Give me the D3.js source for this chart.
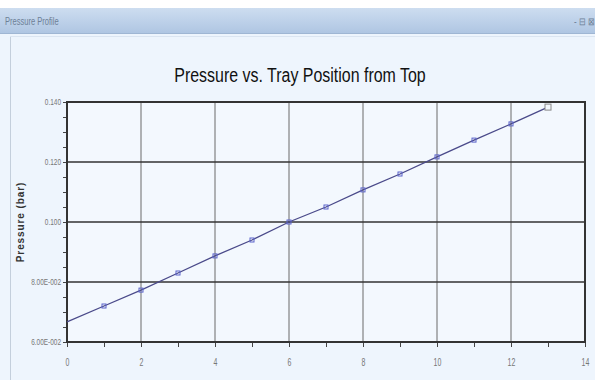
<!DOCTYPE html>
<html><head><meta charset="utf-8">
<script src="https://cdn.jsdelivr.net/npm/d3@7"></script>
<style>
html,body{margin:0;padding:0;background:#fff;}
svg{display:block;}
</style></head>
<body>
<svg id="c" width="595" height="380"></svg>
<script>
const trays = [0,1,2,3,4,5,6,7,8,9,10,11,12,13];
const pressures = [0.0667,0.0720,0.0773,0.0830,0.0887,0.0940,0.1000,0.1050,0.1107,0.1160,0.1217,0.1273,0.1327,0.1383];
const yTickValues = [0.06,0.08,0.10,0.12,0.14];
const yTickLabels = ["6.00E-002","8.00E-002","0.100","0.120","0.140"];
const xTickValues = [0,2,4,6,8,10,12,14];
const titleText = "Pressure vs. Tray Position from Top";
const windowTitle = "Pressure Profile";
const yLabel = "Pressure (bar)";

const svg = d3.select("#c");
const font = "'Liberation Sans',Arial,sans-serif";

// window chrome
const grad = svg.append("defs").append("linearGradient").attr("id","tb").attr("x1",0).attr("y1",0).attr("x2",0).attr("y2",1);
grad.append("stop").attr("offset","0").attr("stop-color","#cdddf0");
grad.append("stop").attr("offset","1").attr("stop-color","#aec5e2");
svg.append("rect").attr("x",0).attr("y",8).attr("width",595).attr("height",26).attr("fill","url(#tb)");
svg.append("line").attr("x1",0).attr("x2",595).attr("y1",33.5).attr("y2",33.5).attr("stroke","#9fb6d3");
svg.append("text").attr("transform","translate(5,25) scale(0.72,1)").attr("font-family",font).attr("font-size",10.5).attr("fill","#6d7f96").text(windowTitle);
svg.append("text").attr("transform","translate(574,25) scale(0.8,1)").attr("font-family",font).attr("font-size",10).attr("fill","#6d7f96").text("- ⊟ ⊠");
svg.append("rect").attr("x",0).attr("y",34).attr("width",595).attr("height",346).attr("fill","#eef5fd");
svg.append("line").attr("x1",10.5).attr("x2",10.5).attr("y1",36).attr("y2",380).attr("stroke","#c4cfdc");
svg.append("line").attr("x1",10).attr("x2",595).attr("y1",36.5).attr("y2",36.5).attr("stroke","#dbe5f1");

const x = d3.scaleLinear().domain([0,14]).range([67,585]);
const y = d3.scaleLinear().domain([0.06,0.14]).range([342,102]);

svg.append("rect").attr("x",x(0)).attr("y",y(0.14)).attr("width",x(14)-x(0)).attr("height",y(0.06)-y(0.14)).attr("fill","#f3f8fe");

// gridlines
svg.append("g").selectAll("line").data(xTickValues.slice(1,-1)).join("line")
  .attr("x1",d=>x(d)).attr("x2",d=>x(d)).attr("y1",y(0.14)).attr("y2",y(0.06))
  .attr("stroke","#6a6a6a").attr("stroke-width",1);
svg.append("g").selectAll("line").data(yTickValues.slice(1,-1)).join("line")
  .attr("x1",x(0)).attr("x2",x(14)).attr("y1",d=>y(d)).attr("y2",d=>y(d))
  .attr("stroke","#333").attr("stroke-width",1.3);

// axes
const xAxis = d3.axisBottom(x).tickValues(d3.range(0,15,1)).tickSize(5).tickFormat(d=> d%2===0 ? d : "");
const gx = svg.append("g").attr("transform",`translate(0,${y(0.06)})`).call(xAxis);
gx.select(".domain").remove();
gx.selectAll("line").attr("stroke","#444");
gx.selectAll("text").attr("font-family",font).attr("font-size",10).attr("fill","#777")
  .attr("y",0).attr("dy",0).attr("transform","translate(0,24) scale(0.7,1)");

const yAxis = d3.axisLeft(y).tickValues(d3.range(0.06,0.1401,0.005)).tickSize(4)
  .tickFormat(d=>{const i=yTickValues.findIndex(v=>Math.abs(v-d)<1e-6);return i>=0?yTickLabels[i]:"";});
const gy = svg.append("g").attr("transform",`translate(${x(0)},0)`).call(yAxis);
gy.select(".domain").remove();
gy.selectAll("line").attr("stroke","#444");
gy.selectAll("text").attr("font-family",font).attr("font-size",9).attr("fill","#777")
  .attr("x",0).attr("transform","translate(-6,0) scale(0.72,1)");

// border
svg.append("rect").attr("x",x(0)).attr("y",y(0.14)).attr("width",x(14)-x(0)).attr("height",y(0.06)-y(0.14))
  .attr("fill","none").attr("stroke","#333").attr("stroke-width",2);

// line
const pts = trays.map((t,i)=>[t,pressures[i]]);
svg.append("path").datum(pts).attr("d",d3.line().x(d=>x(d[0])).y(d=>y(d[1])))
  .attr("fill","none").attr("stroke","#4a4a8a").attr("stroke-width",1.3);
svg.append("g").selectAll("rect").data(pts.slice(1,-1)).join("rect")
  .attr("x",d=>x(d[0])-2).attr("y",d=>y(d[1])-2).attr("width",4).attr("height",4)
  .attr("fill","none").attr("stroke","#5b63c9").attr("stroke-width",1);
const last = pts[pts.length-1];
svg.append("rect").attr("x",x(last[0])-3).attr("y",y(last[1])-3).attr("width",6).attr("height",6)
  .attr("fill","#f3f8fe").attr("stroke","#888").attr("stroke-width",1);

// titles
svg.append("text").attr("transform","translate(300,82) scale(0.76,1)").attr("text-anchor","middle")
  .attr("font-family",font).attr("font-size",21).attr("fill","#111").text(titleText);
svg.append("text").attr("transform",`translate(24,${(y(0.06)+y(0.14))/2}) rotate(-90)`).attr("text-anchor","middle")
  .attr("font-family",font).attr("font-size",10).attr("font-weight","bold").attr("letter-spacing",0.9).attr("fill","#333").text(yLabel);
</script>
</body></html>
